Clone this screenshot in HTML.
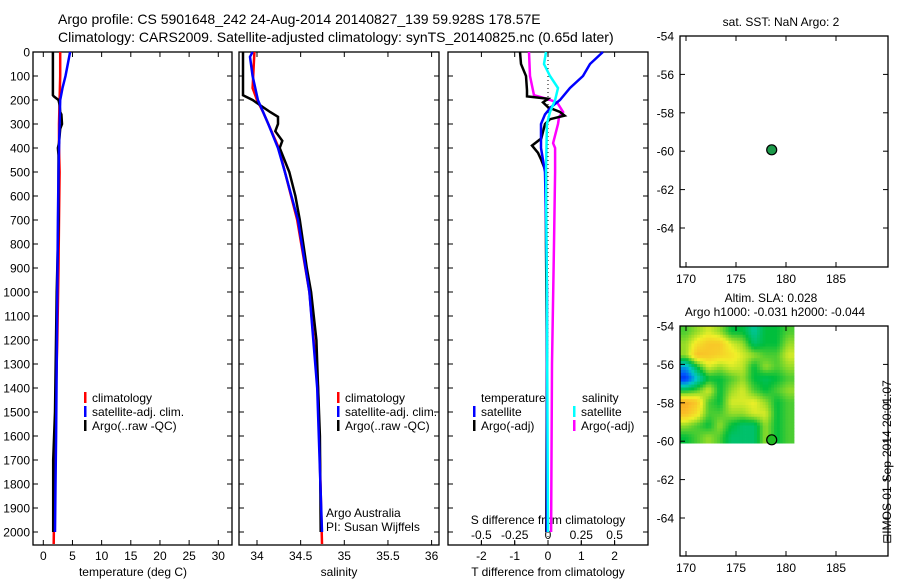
<!DOCTYPE html>
<html><head><meta charset="utf-8">
<style>
body{margin:0;background:#fff}
svg{display:block;font-family:"Liberation Sans",sans-serif;font-size:12px}
</style></head>
<body>
<svg id="c" width="900" height="580" viewBox="0 0 900 580" xmlns="http://www.w3.org/2000/svg">
<text x="58" y="24" font-size="14">Argo profile: CS 5901648_242 24-Aug-2014 20140827_139 59.928S 178.57E</text>
<text x="58" y="42" font-size="14">Climatology: CARS2009. Satellite-adjusted climatology: synTS_20140825.nc (0.65d later)</text>
<g id="g"></g>
</svg>
<script>
// ---- data ----
const depthTicks=[0,100,200,300,400,500,600,700,800,900,1000,1100,1200,1300,1400,1500,1600,1700,1800,1900,2000];
const tempTicks=[0,5,10,15,20,25,30];
const salTicks=[34,34.5,35,35.5,36];
const tdiffTicks=[-2,-1,0,1,2];
const sdiffTicks=[-0.5,-0.25,0,0.25,0.5];
const sdiffLabels=["-0.5","-0.25","0","0.25","0.5"];
const lonTicks=[170,175,180,185];
const latTicks=[-54,-56,-58,-60,-62,-64];

const argoTDepth=[0,180,185,200,220,250,260,300,320,380,400,430,500,700,1000,1500,1700,2000];
const argoT=[1.65,1.65,1.8,2.6,2.8,2.9,3.1,3.2,2.9,2.7,2.5,2.6,2.6,2.6,2.3,2.0,1.7,1.7];
const climTDepth=[0,100,200,300,400,500,700,900,1200,1500,1800,2050];
const climT=[2.9,2.9,2.8,2.7,2.7,2.8,2.7,2.6,2.4,2.1,1.9,1.78];
const satTDepth=[0,50,100,150,200,300,500,700,1000,1300,1600,1800,2000];
const satT=[4.6,4.2,3.8,3.3,2.9,2.8,2.6,2.5,2.4,2.3,2.2,2.1,2.0];

const argoSDepth=[0,180,200,250,270,300,330,370,400,500,600,700,900,1000,1200,1400,1600,2000];
const argoS=[33.84,33.84,33.95,34.15,34.24,34.24,34.21,34.29,34.26,34.37,34.44,34.49,34.57,34.62,34.68,34.70,34.72,34.73];
const climSDepth=[0,150,200,250,400,700,1000,1400,2050];
const climS=[33.97,33.95,34.0,34.07,34.25,34.46,34.6,34.7,34.745];
const satSDepth=[0,20,100,200,300,400,500,700,1000,1400,2000];
const satS=[33.95,33.92,33.95,34.01,34.13,34.24,34.32,34.47,34.6,34.69,34.745];

const dSatTDepth=[0,50,100,150,200,230,260,300,400,500,700,1000,2000];
const dSatT=[1.65,1.26,1.05,0.66,0.36,0.09,-0.09,-0.21,-0.21,-0.09,-0.06,-0.03,-0.03];
const dArgoTDepth=[0,50,100,160,185,195,210,230,250,265,280,300,360,390,420,450,500,800,1300,2000];
const dArgoT=[-0.84,-0.81,-0.66,-0.63,-0.63,0,-0.15,0,0.36,0.5,0.06,-0.09,-0.2,-0.48,-0.3,-0.2,-0.06,-0.06,-0.03,-0.05];
const dArgoSDepth=[0,100,180,195,210,250,270,300,380,400,500,800,1300,2000];
const dArgoS=[-0.143,-0.135,-0.105,-0.008,0.068,0.113,0.083,0.075,0.038,0.053,0.053,0.045,0.03,0.023];
const dSatSDepth=[0,50,100,150,200,250,300,500,1000,2000];
const dSatS=[-0.015,-0.03,0.015,0.075,0.053,0.015,-0.008,-0.015,-0.008,0];

const floatLon=[178.57];
const floatLat=[-59.928];
const slaGrid=[
[.5,.55,.6,.55,.45,.45,.35,.45,.45,.5],
[.55,.65,.7,.7,.6,.55,.4,.45,.45,.55],
[.55,.72,.7,.68,.65,.6,.55,.5,.5,.6],
[.25,.45,.6,.55,.6,.58,.45,.55,.5,.55],
[.1,.3,.45,.45,.5,.55,.45,.42,.45,.5],
[.45,.5,.6,.45,.55,.6,.5,.45,.5,.55],
[.75,.7,.5,.45,.6,.6,.62,.55,.45,.5],
[.72,.65,.5,.5,.55,.55,.6,.6,.45,.5],
[.55,.5,.45,.55,.45,.4,.4,.55,.45,.5],
[.45,.5,.55,.5,.4,.4,.4,.55,.45,.5]];

// ---- scales ----
const NS="http://www.w3.org/2000/svg";
const G=document.getElementById('g');
function el(t,a,p){const e=document.createElementNS(NS,t);for(const k in a)e.setAttribute(k,a[k]);(p||G).appendChild(e);return e;}
function tx(x,y,s,anchor,extra){const e=el('text',Object.assign({x:x,y:y,'text-anchor':anchor||'start'},extra||{}));e.textContent=s;return e;}
const yD=d=>52+d*0.24;
const xT=t=>43.3+t*5.833;
const xS=s=>257+(s-34)*87.3;
const xDT=t=>548+t*33.3;
const xDS=s=>548+s*133.2;
const xLon=l=>686+(l-170)*10;
const yLatTop=l=>36+(-54-l)*19.2;
const yLatBot=l=>326+(-54-l)*19.2;

function box(x1,x2,y1,y2,name){const r=el('rect',{x:x1,y:y1,width:x2-x1,height:y2-y1,fill:'none',stroke:'#000','stroke-width':1.3});

}
function line(xs,ds,fx,col,w,name){const pts=xs.map((v,i)=>fx(v).toFixed(1)+','+yD(ds[i]).toFixed(1)).join(' ');
const p=el('polyline',{points:pts,fill:'none',stroke:col,'stroke-width':w});

}

const PY1=52,PY2=545;
box(33,232,PY1,PY2,'temperature-panel');
box(239,439,PY1,PY2,'salinity-panel');
box(448,648,PY1,PY2,'difference-panel');
depthTicks.forEach(d=>{const y=yD(d);
 const t=tx(30,y+4.5,String(d),'end');
 
 
 [[33,38],[227,232],[239,244],[434,439],[448,453],[643,648]].forEach(s=>el('line',{x1:s[0],x2:s[1],y1:y,y2:y,stroke:'#000'}));
});
function xticks(vals,fx,labels,yl){vals.forEach((v,i)=>{const x=fx(v);
 el('line',{x1:x,x2:x,y1:PY2,y2:PY2-5,stroke:'#000'});el('line',{x1:x,x2:x,y1:PY1,y2:PY1+5,stroke:'#000'});
 const t=tx(x,yl,labels?labels[i]:String(v),'middle');
 
 });}
xticks(tempTicks,xT,null,560);
xticks(salTicks,xS,null,560);
xticks(tdiffTicks,xDT,null,560);
sdiffTicks.forEach((v,i)=>{const x=xDS(v);el('line',{x1:x,x2:x,y1:PY2,y2:PY2-4,stroke:'#000'});
 const t=tx(x,539,sdiffLabels[i],'middle');
 
 });
el('line',{x1:548,x2:548,y1:PY1,y2:PY2,stroke:'#000','stroke-dasharray':'1,3'});

let t;
t=tx(133,576,'temperature (deg C)','middle');
t=tx(339,576,'salinity','middle');
t=tx(548,576,'T difference from climatology','middle');
t=tx(548,524,'S difference from climatology','middle');

line(climT,climTDepth,xT,'#f00',2.5,'temperature-climatology-line');
line(argoT,argoTDepth,xT,'#000',2.5,'temperature-argo-line');
line(satT,satTDepth,xT,'#00f',2.5,'temperature-satellite-line');
line(climS,climSDepth,xS,'#f00',2.5,'salinity-climatology-line');
line(argoS,argoSDepth,xS,'#000',2.5,'salinity-argo-line');
line(satS,satSDepth,xS,'#00f',2.5,'salinity-satellite-line');
line(dArgoS,dArgoSDepth,xDS,'#f0f',2.5,'salinity-argo-diff-line');
line(dArgoT,dArgoTDepth,xDT,'#000',2.5,'temperature-argo-diff-line');
line(dSatT,dSatTDepth,xDT,'#00f',2.5,'temperature-satellite-diff-line');
line(dSatS,dSatSDepth,xDS,'#0ff',2.5,'salinity-satellite-diff-line');

function leg(x,y,col,label,name){el('rect',{x:x,y:y-10,width:2.5,height:11,fill:col});
 const t=tx(x+8,y,label,'start',{textLength:null});t.removeAttribute('textLength');}
leg(84,402,'#f00','climatology','legend-climatology');
leg(84,416,'#00f','satellite-adj. clim.','legend-satellite-clim');
leg(84,430,'#000','Argo(..raw -QC)','legend-argo-raw');
leg(337,402,'#f00','climatology','legend-sal-climatology');
leg(337,416,'#00f','satellite-adj. clim.','legend-sal-satellite-clim');
leg(337,430,'#000','Argo(..raw -QC)','legend-sal-argo-raw');
t=tx(481,402,'temperature');
t=tx(582,402,'salinity');
leg(473,416,'#00f','satellite','legend-t-satellite');
leg(473,430,'#000','Argo(-adj)','legend-t-argo');
leg(573,416,'#0ff','satellite','legend-s-satellite');
leg(573,430,'#f0f','Argo(-adj)','legend-s-argo');
t=tx(326,517,'Argo Australia');
t=tx(326,531,'PI: Susan Wijffels');

function mapPanel(y1,y2,fy,name){
 box(680,888,y1,y2,name);
 lonTicks.forEach(l=>{const x=xLon(l);el('line',{x1:x,x2:x,y1:y2,y2:y2-5,stroke:'#000'});el('line',{x1:x,x2:x,y1:y1,y2:y1+5,stroke:'#000'});
  const t=tx(x,y2+16,String(l),'middle');});
 latTicks.forEach(l=>{const y=fy(l);el('line',{x1:680,x2:685,y1:y,y2:y,stroke:'#000'});el('line',{x1:883,x2:888,y1:y,y2:y,stroke:'#000'});
  const t=tx(674,y+4.5,String(l),'end');});
}
function jet(v){const stops=[[0,[0,0,200]],[0.15,[0,80,255]],[0.3,[0,200,200]],[0.45,[0,190,60]],[0.55,[150,220,40]],[0.62,[240,240,40]],[0.72,[250,190,40]],[0.85,[240,110,20]],[1,[200,0,0]]];
 for(let i=1;i<stops.length;i++){if(v<=stops[i][0]){const a=stops[i-1],b=stops[i],f=(v-a[0])/(b[0]-a[0]);return 'rgb('+a[1].map((c,k)=>Math.round(c+(b[1][k]-c)*f)).join(',')+')';}}return 'rgb(200,0,0)';}
const hx0=680,hx1=794,hy0=yLatBot(-54),hy1=yLatBot(-60.1);
const nr=slaGrid.length,nc=slaGrid[0].length,SUB=4;
const fr=nr*SUB,fc=nc*SUB,cw=(hx1-hx0)/fc,ch=(hy1-hy0)/fr;
function samp(r,c){// bilinear in grid index space
 const rr=Math.min(Math.max(r,0),nr-1),cc=Math.min(Math.max(c,0),nc-1);
 const r0=Math.floor(rr),c0=Math.floor(cc),r1=Math.min(r0+1,nr-1),c1=Math.min(c0+1,nc-1),fr_=rr-r0,fc_=cc-c0;
 return slaGrid[r0][c0]*(1-fr_)*(1-fc_)+slaGrid[r0][c1]*(1-fr_)*fc_+slaGrid[r1][c0]*fr_*(1-fc_)+slaGrid[r1][c1]*fr_*fc_;}
for(let r=0;r<fr;r++)for(let c=0;c<fc;c++){const v=samp((r+0.5)/SUB-0.5,(c+0.5)/SUB-0.5);
 const e=el('rect',{x:(hx0+c*cw).toFixed(2),y:(hy0+r*ch).toFixed(2),width:(cw+0.4).toFixed(2),height:(ch+0.4).toFixed(2),fill:jet(v)});
 
 }
mapPanel(36,267,yLatTop,'sst-map-panel');
mapPanel(326,556,yLatBot,'sla-map-panel');
let c=el('circle',{cx:xLon(floatLon[0]),cy:yLatTop(floatLat[0]),r:5,fill:'#1c9a4a',stroke:'#000','stroke-width':1.2});


c=el('circle',{cx:xLon(floatLon[0]),cy:yLatBot(floatLat[0]),r:5,fill:'#22bb22',stroke:'#000','stroke-width':1.2});


t=tx(781,26,'sat. SST: NaN Argo: 2','middle');
t=tx(771,302,'Altim. SLA: 0.028','middle');
t=tx(775,316,'Argo h1000: -0.031 h2000: -0.044','middle');
t=tx(0,0,'\u229fIMOS 01-Sep-2014 20:01:07','middle',{transform:'translate(891,462) rotate(-90)'});

</script>
</body></html>
